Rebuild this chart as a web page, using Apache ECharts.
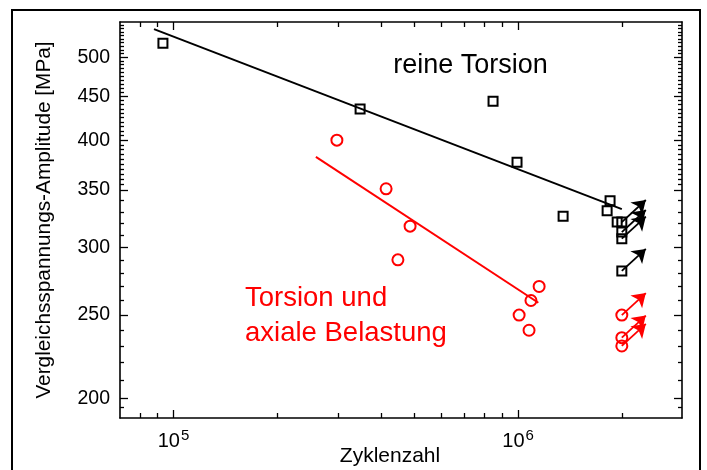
<!DOCTYPE html>
<html><head><meta charset="utf-8">
<script src="https://cdn.jsdelivr.net/npm/echarts@6/dist/echarts.min.js"></script>
<style>html,body{margin:0;padding:0;background:#fff}#c{width:707px;height:470px}</style>
</head><body><div id="c"></div>
<script>
// ---- data ----
const torsionCycles = [93200, 348000, 846000, 993000, 1351000, 1849000, 1813000, 1939000];
const torsionStress = [519, 435, 444, 377, 326, 340, 331, 321];
const torsionRunoutCycles = [2000000, 2000000, 2000000, 2000000];
const torsionRunoutStress = [321, 312.5, 307, 281.5];
const combinedCycles = [298000, 414000, 486000, 448000, 1151000, 1090000, 1007000, 1076000];
const combinedStress = [400, 351, 317.5, 290, 270, 260, 250, 240];
const combinedRunoutCycles = [2000000, 2000000, 2000000];
const combinedRunoutStress = [250, 235.3, 230.1];
const torsionFitCycles = [87800, 2000000];
const torsionFitStress = [539, 332.3];
const combinedFitCycles = [259000, 1145000];
const combinedFitStress = [382.5, 258.4];
const xMajorTicks = [1e5, 1e6];
const xMinorTicks = [8e4, 9e4, 2e5, 3e5, 4e5, 5e5, 6e5, 7e5, 8e5, 9e5, 2e6];
const yMajorTicks = [200, 250, 300, 350, 400, 450, 500];
const yMinorTicks = [195, 210, 220, 230, 240, 260, 270, 280, 290, 310, 320, 330, 340,
  355, 360, 365, 370, 375, 380, 385, 390, 395, 405, 410, 415, 420, 425, 430, 435, 440, 445,
  455, 460, 465, 470, 475, 480, 485, 490, 495, 505, 510, 515, 520, 525, 530, 535, 540, 545];
const runoutArrowFactorX = 1.174, runoutArrowFactorY = 1.061;
const xMin = 69960, xMax = 2990000, yMin = 189.6, yMax = 549.5;

const FONT = 'Liberation Sans, Arial, Helvetica, sans-serif';
const zip = (a, b) => a.map((v, i) => [v, b[i]]);
const arrows = (xs, ys) => xs.map((x, i) => ({coords: [[x, ys[i]], [x * runoutArrowFactorX, ys[i] * runoutArrowFactorY]]}));

function xAx(pos, ticks, len, line, labels) {
  return {
    type: 'log', logBase: 10, position: pos, min: xMin, max: xMax,
    axisLine: {show: line, onZero: false, lineStyle: {color: '#000', width: 1.6}},
    axisTick: {show: true, inside: true, length: len, customValues: ticks, lineStyle: {color: '#000', width: 1.3}},
    axisLabel: labels ? {
      show: true, customValues: xMajorTicks, margin: 10,
      formatter: v => '{b|10}{s|' + Math.round(Math.log10(v)) + '}',
      rich: {b: {fontSize: 20, fontFamily: FONT, color: '#000'}, s: {fontSize: 15, fontFamily: FONT, color: '#000', padding: [0, 0, 12, 1]}}
    } : {show: false},
    splitLine: {show: false}, minorTick: {show: false}
  };
}
function yAx(pos, ticks, len, line, labels) {
  return {
    type: 'log', logBase: 10, position: pos, min: yMin, max: yMax,
    axisLine: {show: line, onZero: false, lineStyle: {color: '#000', width: 1.6}},
    axisTick: {show: true, inside: true, length: len, customValues: ticks, lineStyle: {color: '#000', width: 1.3}},
    axisLabel: labels ? {
      show: true, customValues: yMajorTicks, margin: 10, fontSize: 19.5, fontFamily: FONT, color: '#000',
      formatter: v => String(Math.round(v))
    } : {show: false},
    name: labels ? 'Vergleichsspannungs-Amplitude [MPa]' : '',
    nameLocation: 'middle', nameGap: 65,
    nameTextStyle: {fontSize: 20.8, fontFamily: FONT, color: '#000'},
    splitLine: {show: false}, minorTick: {show: false}
  };
}

const chart = echarts.init(document.getElementById('c'), null, {renderer: 'canvas'});
chart.setOption({
  animation: false,
  backgroundColor: '#fff',
  grid: {left: 120, right: 25, top: 22, bottom: 52, containLabel: false},
  xAxis: [
    xAx('bottom', xMajorTicks, 8, true, true),
    xAx('bottom', xMinorTicks, 5, false, false),
    xAx('top', xMajorTicks, 8, true, false),
    xAx('top', xMinorTicks, 5, false, false)
  ],
  yAxis: [
    yAx('left', yMajorTicks, 8, true, true),
    yAx('left', yMinorTicks, 4, false, false),
    yAx('right', yMajorTicks, 8, true, false),
    yAx('right', yMinorTicks, 4, false, false)
  ],
  graphic: [
    {type: 'rect', shape: {x: 12, y: 10, width: 688, height: 480}, style: {fill: 'none', stroke: '#000', lineWidth: 2}, silent: true, z: 100},
    {type: 'text', x: 470.5, y: 66, style: {text: 'reine Torsion', font: '27px ' + FONT, fill: '#000', textAlign: 'center', textVerticalAlign: 'middle'}},
    {type: 'text', x: 245, y: 298, style: {text: 'Torsion und', font: '27.5px ' + FONT, fill: '#ff0000', textAlign: 'left', textVerticalAlign: 'middle'}},
    {type: 'text', x: 245, y: 333, style: {text: 'axiale Belastung', font: '27.5px ' + FONT, fill: '#ff0000', textAlign: 'left', textVerticalAlign: 'middle'}},
    {type: 'text', x: 390, y: 456, style: {text: 'Zyklenzahl', font: '21px ' + FONT, fill: '#000', textAlign: 'center', textVerticalAlign: 'middle'}}
  ],
  series: [
    {type: 'line', data: zip(torsionFitCycles, torsionFitStress), symbol: 'none', lineStyle: {color: '#000', width: 2}, z: 2},
    {type: 'line', data: zip(combinedFitCycles, combinedFitStress), symbol: 'none', lineStyle: {color: '#ff0000', width: 2}, z: 2},
    {type: 'lines', coordinateSystem: 'cartesian2d', data: arrows(torsionRunoutCycles, torsionRunoutStress),
     symbol: ['none', 'arrow'], symbolSize: [9, 13], lineStyle: {color: '#000', width: 1.8, opacity: 1}, z: 3},
    {type: 'lines', coordinateSystem: 'cartesian2d', data: arrows(combinedRunoutCycles, combinedRunoutStress),
     symbol: ['none', 'arrow'], symbolSize: [9, 13], lineStyle: {color: '#ff0000', width: 1.8, opacity: 1}, z: 3},
    {type: 'scatter', data: zip(torsionCycles, torsionStress).concat(zip(torsionRunoutCycles, torsionRunoutStress)),
     symbol: 'rect', symbolSize: 9, itemStyle: {color: 'rgba(0,0,0,0)', borderColor: '#000', borderWidth: 2, opacity: 1}, z: 4},
    {type: 'scatter', data: zip(combinedCycles, combinedStress).concat(zip(combinedRunoutCycles, combinedRunoutStress)),
     symbol: 'circle', symbolSize: 11, itemStyle: {color: 'rgba(0,0,0,0)', borderColor: '#ff0000', borderWidth: 2, opacity: 1}, z: 4}
  ]
});
</script></body></html>
